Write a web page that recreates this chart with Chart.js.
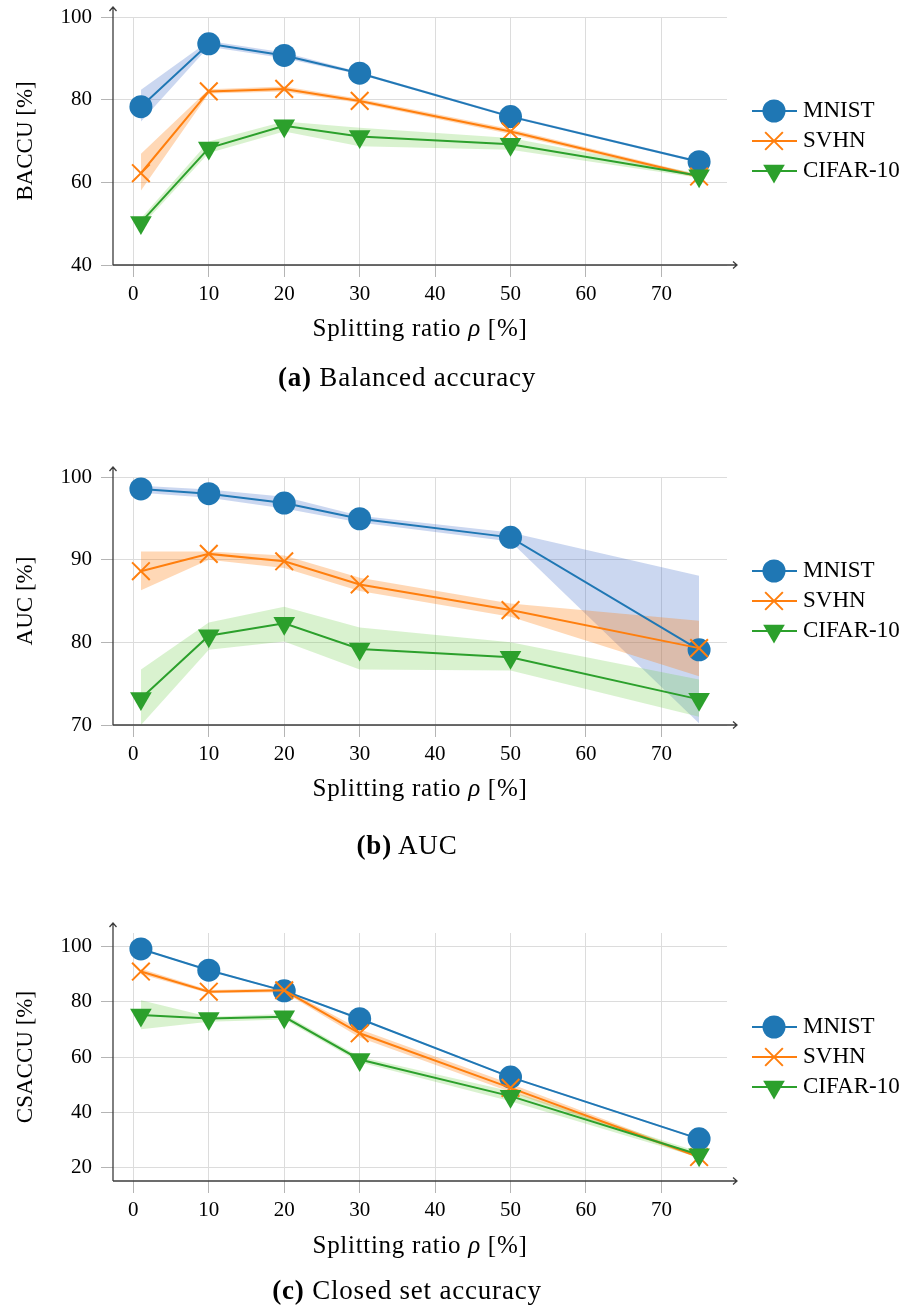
<!DOCTYPE html>
<html>
<head>
<meta charset="utf-8">
<script src="https://cdn.jsdelivr.net/npm/chart.js@4.4.0/dist/chart.umd.min.js"></script>
<style>
  body { margin: 0; background: #fff; }
  #page { position: relative; width: 924px; height: 1306px; font-family: "Liberation Serif", serif; color: #000; }
  canvas { position: absolute; left: 0; }
  .ytitle { position: absolute; left: 25px; transform: translate(-50%, -50%) rotate(-90deg); font-size: 23px; white-space: nowrap; }
  .xtitle { position: absolute; left: 420px; transform: translate(-50%, -50%); font-size: 25px; letter-spacing: 0.7px; white-space: nowrap; }
  .caption { position: absolute; left: 407px; transform: translate(-50%, -50%); font-size: 27px; letter-spacing: 0.8px; white-space: nowrap; }
</style>
</head>
<body>
<div id="page">
  <canvas id="chartA" width="924" height="321" style="top:0px"></canvas>
  <canvas id="chartB" width="924" height="321" style="top:460px"></canvas>
  <canvas id="chartC" width="924" height="321" style="top:916px"></canvas>

  <div class="ytitle" style="top:141px">BACCU [%]</div>
  <div class="xtitle" style="top:328px">Splitting ratio <i>ρ</i> [%]</div>
  <div class="caption" style="top:377px"><b>(a)</b> Balanced accuracy</div>

  <div class="ytitle" style="top:601px">AUC [%]</div>
  <div class="xtitle" style="top:788px">Splitting ratio <i>ρ</i> [%]</div>
  <div class="caption" style="top:845px"><b>(b)</b> AUC</div>

  <div class="ytitle" style="top:1057px">CSACCU [%]</div>
  <div class="xtitle" style="top:1245px">Splitting ratio <i>ρ</i> [%]</div>
  <div class="caption" style="top:1290px"><b>(c)</b> Closed set accuracy</div>
</div>

<script>
// splitting ratios (x) and axis ticks
const ratios = [1, 10, 20, 30, 50, 75];
const xTicks = [0, 10, 20, 30, 40, 50, 60, 70];
const seriesNames = ['MNIST', 'SVHN', 'CIFAR-10'];

// (a) balanced accuracy: mean, upper and lower band
const baccMnist   = [78.3, 93.5, 90.7, 86.4, 75.9, 65.0];
const baccMnistHi = [82.4, 94.2, 91.4, 86.7, 76.2, 65.3];
const baccMnistLo = [74.7, 92.8, 90.0, 86.1, 75.6, 64.7];
const baccSvhn    = [62.2, 82.0, 82.6, 79.7, 72.3, 61.4];
const baccSvhnHi  = [66.9, 82.5, 83.2, 80.2, 72.9, 61.8];
const baccSvhnLo  = [58.0, 81.5, 82.0, 79.2, 71.7, 61.0];
const baccCifar   = [50.3, 68.3, 73.7, 71.1, 69.2, 61.6];
const baccCifarHi = [51.3, 69.9, 74.7, 73.2, 70.7, 62.1];
const baccCifarLo = [49.3, 67.1, 72.3, 68.7, 67.9, 61.1];
const baccTicks = [40, 60, 80, 100];

// (b) AUC
const aucMnist   = [98.55, 97.98, 96.85, 94.95, 92.7, 79.1];
const aucMnistHi = [98.95, 98.5, 97.6, 95.3, 93.3, 88.05];
const aucMnistLo = [98.1, 97.5, 96.2, 94.5, 92.2, 70.2];
const aucSvhn    = [88.6, 90.7, 89.8, 87.0, 83.9, 79.3];
const aucSvhnHi  = [91.0, 91.0, 90.5, 87.8, 84.7, 82.6];
const aucSvhnLo  = [86.3, 90.0, 89.0, 86.2, 83.1, 75.9];
const aucCifar   = [73.2, 80.8, 82.3, 79.2, 78.2, 73.1];
const aucCifarHi = [76.7, 82.4, 84.3, 81.8, 80.0, 75.5];
const aucCifarLo = [70.0, 79.1, 80.1, 76.7, 76.6, 71.0];
const aucTicks = [70, 80, 90, 100];

// (c) closed set accuracy
const csMnist   = [99.2, 91.5, 84.0, 73.9, 52.7, 30.3];
const csMnistHi = [99.5, 91.8, 84.3, 74.2, 53.0, 30.6];
const csMnistLo = [98.9, 91.2, 83.7, 73.6, 52.4, 30.0];
const csSvhn    = [91.0, 83.7, 84.2, 68.6, 48.8, 23.7];
const csSvhnHi  = [92.0, 84.3, 84.9, 70.1, 50.3, 24.2];
const csSvhnLo  = [90.0, 83.1, 83.5, 67.1, 47.3, 23.2];
const csCifar   = [75.2, 74.0, 74.6, 59.1, 45.8, 24.5];
const csCifarHi = [80.6, 74.6, 75.6, 60.1, 47.6, 25.5];
const csCifarLo = [70.1, 72.8, 73.6, 58.1, 43.9, 23.5];
const csTicks = [20, 40, 60, 80, 100];

const colors = ['#1f77b4', '#ff7f0e', '#2ca02c'];
const bandColors = ['rgba(70,110,200,0.28)', 'rgba(255,127,14,0.3)', 'rgba(110,205,70,0.26)'];
const tickFont = { family: '"Liberation Serif", serif', size: 21 };

const pts = vals => ratios.map((x, i) => ({ x: x, y: vals[i] }));

function lineSet(k, vals) {
  const styles = ['circle', 'crossRot', 'triangle'];
  const radius = [11.5, 12.5, 12.5];
  return {
    label: seriesNames[k],
    data: pts(vals),
    borderColor: colors[k],
    backgroundColor: colors[k],
    borderWidth: 2,
    pointStyle: styles[k],
    pointRadius: radius[k],
    pointRotation: k === 2 ? 180 : 0,
    pointBackgroundColor: colors[k],
    pointBorderColor: colors[k],
    pointBorderWidth: k === 1 ? 2 : 0,
    fill: false,
    tension: 0
  };
}

function bandSets(k, hi, lo) {
  return [
    { label: '', data: pts(hi), borderWidth: 0, borderColor: 'transparent', pointRadius: 0, fill: false },
    { label: '', data: pts(lo), borderWidth: 0, borderColor: 'transparent', pointRadius: 0, fill: '-1', backgroundColor: bandColors[k] }
  ];
}

// axis lines with arrows + pgfplots-like legend (line through marker)
const axesAndLegend = {
  id: 'axesAndLegend',
  afterDraw(chart) {
    const ctx = chart.ctx;
    const a = chart.chartArea;
    ctx.save();
    ctx.strokeStyle = '#3c3c3c';
    ctx.lineWidth = 1.3;
    ctx.beginPath();
    ctx.moveTo(a.left, a.bottom); ctx.lineTo(a.left, a.top - 10);
    ctx.moveTo(a.left, a.bottom); ctx.lineTo(a.right + 10, a.bottom);
    ctx.moveTo(a.left - 3.5, a.top - 6); ctx.lineTo(a.left, a.top - 10); ctx.lineTo(a.left + 3.5, a.top - 6);
    ctx.moveTo(a.right + 6, a.bottom - 3.5); ctx.lineTo(a.right + 10, a.bottom); ctx.lineTo(a.right + 6, a.bottom + 3.5);
    ctx.stroke();

    const cy = (a.top + a.bottom) / 2;
    const x0 = a.right + 25;
    [2, 1, 0].forEach((di, k) => {
      const ds = chart.data.datasets[di];
      const y = cy + (k - 1) * 30;
      ctx.strokeStyle = ds.borderColor;
      ctx.lineWidth = 2;
      ctx.beginPath(); ctx.moveTo(x0, y); ctx.lineTo(x0 + 45, y); ctx.stroke();
      ctx.fillStyle = ds.pointBackgroundColor;
      ctx.lineWidth = ds.pointBorderWidth || 1;
      Chart.helpers.drawPoint(ctx, {
        pointStyle: ds.pointStyle, radius: ds.pointRadius,
        rotation: ds.pointRotation, borderWidth: ds.pointBorderWidth
      }, x0 + 22, y);
      ctx.fillStyle = '#000';
      ctx.font = '23px "Liberation Serif", serif';
      ctx.textBaseline = 'middle';
      ctx.textAlign = 'left';
      ctx.fillText(ds.label, x0 + 51, y);
    });
    ctx.restore();
  }
};

function makeChart(id, yMin, yMax, yTicks, mn, mnHi, mnLo, sv, svHi, svLo, cf, cfHi, cfLo) {
  const grid = { color: '#dcdcdc', lineWidth: 1, tickColor: '#b4b4b4', tickLength: 12, drawTicks: true };
  return new Chart(document.getElementById(id).getContext('2d'), {
    type: 'line',
    data: {
      datasets: [
        lineSet(2, cf), lineSet(1, sv), lineSet(0, mn),
        ...bandSets(2, cfHi, cfLo), ...bandSets(1, svHi, svLo), ...bandSets(0, mnHi, mnLo)
      ]
    },
    options: {
      responsive: false,
      animation: false,
      events: [],
      layout: { padding: { top: 17, right: 197, left: 0, bottom: 0 } },
      plugins: { legend: { display: false }, tooltip: { enabled: false } },
      scales: {
        x: {
          type: 'linear', min: -2.7, max: 78.7,
          afterBuildTicks: s => { s.ticks = xTicks.map(v => ({ value: v })); },
          afterFit: s => { s.height = 56; s.paddingLeft = 0; s.paddingRight = 0; },
          grid: grid,
          border: { display: false },
          ticks: { font: tickFont, color: '#000', padding: 5, maxRotation: 0, autoSkip: false }
        },
        y: {
          type: 'linear', min: yMin, max: yMax,
          afterBuildTicks: s => { s.ticks = yTicks.map(v => ({ value: v })); },
          afterFit: s => { s.width = 113; s.paddingTop = 0; s.paddingBottom = 0; },
          grid: grid,
          border: { display: false },
          ticks: { font: tickFont, color: '#000', padding: 9, autoSkip: false }
        }
      }
    },
    plugins: [axesAndLegend]
  });
}

makeChart('chartA', 40, 100, baccTicks,
  baccMnist, baccMnistHi, baccMnistLo, baccSvhn, baccSvhnHi, baccSvhnLo, baccCifar, baccCifarHi, baccCifarLo);
makeChart('chartB', 70, 100, aucTicks,
  aucMnist, aucMnistHi, aucMnistLo, aucSvhn, aucSvhnHi, aucSvhnLo, aucCifar, aucCifarHi, aucCifarLo);
makeChart('chartC', 15, 105, csTicks,
  csMnist, csMnistHi, csMnistLo, csSvhn, csSvhnHi, csSvhnLo, csCifar, csCifarHi, csCifarLo);
</script>
</body>
</html>
